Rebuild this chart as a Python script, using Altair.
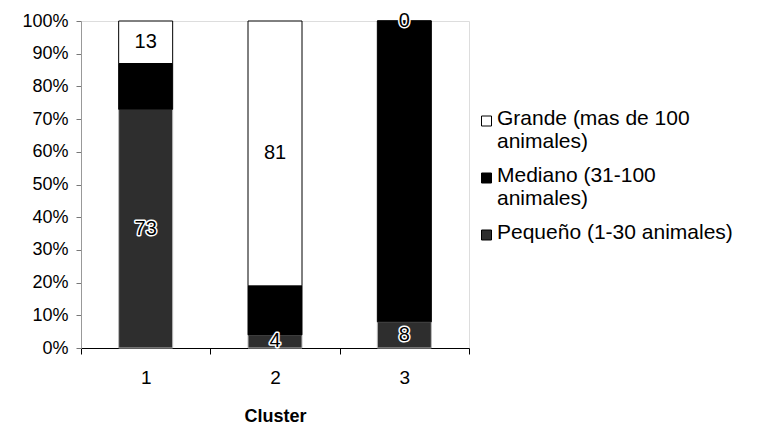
import altair as alt
import pandas as pd

clusters = ["1", "2", "3"]
categories = ["Pequeño (1-30 animales)", "Mediano (31-100 animales)", "Grande (mas de 100 animales)"]
pequeno = [73, 4, 8]
mediano = [14, 15, 92]
grande = [13, 81, 0]
show_label = [True, False, True]
y_ticks = [0, 0.1, 0.2, 0.3, 0.4, 0.5, 0.6, 0.7, 0.8, 0.9, 1.0]

rows = []
for i, c in enumerate(clusters):
    cum = 0
    for k, (cat, vals) in enumerate(zip(categories, [pequeno, mediano, grande])):
        v = vals[i]
        rows.append(dict(cluster=c, cat=cat, value=v,
                         y0=cum / 100, y1=(cum + v) / 100, mid=(cum + v / 2) / 100,
                         label=str(v) if show_label[k] else ""))
        cum += v
df = pd.DataFrame(rows)

FONT = "Liberation Sans"
legend_order = [categories[2], categories[1], categories[0]]

label_expr = (
    "datum.value == 'Grande (mas de 100 animales)' ? ['Grande (mas de 100', 'animales)'] : "
    "datum.value == 'Mediano (31-100 animales)' ? ['Mediano (31-100', 'animales)'] : [datum.value, '']"
)

x_scale = alt.Scale(paddingInner=0, paddingOuter=0)
y_scale = alt.Scale(domain=[0, 1], nice=False)

x_axis = alt.Axis(title="Cluster")
y_axis = alt.Axis(title=None, values=y_ticks, format=".0%")

bars = alt.Chart(df).mark_bar(size=54, strokeWidth=1).encode(
    x=alt.X("cluster:N", scale=x_scale, axis=x_axis),
    y=alt.Y("y0:Q", scale=y_scale, axis=y_axis),
    y2="y1:Q",
    color=alt.Color("cat:N",
                    scale=alt.Scale(domain=legend_order, range=["white", "black", "#2e2e2e"]),
                    legend=alt.Legend(title=None, orient="none", legendX=395, legendY=87,
                                      symbolType="M-1,-0.5H1V1.5H-1Z", symbolSize=100,
                                      symbolStrokeColor="black", symbolStrokeWidth=1,
                                      labelFontSize=21, labelFont=FONT, labelColor="black",
                                      labelLimit=400, labelExpr=label_expr,
                                      rowPadding=12, labelOffset=0)),
    stroke=alt.condition(alt.datum.cat == categories[0], alt.value("#bbbbbb"), alt.value("black")),
)

lab = df[df["label"] != ""]
halo = alt.Chart(lab).mark_text(fontSize=20, font=FONT, color="white", stroke="white",
                                strokeWidth=3, strokeJoin="round").encode(
    x=alt.X("cluster:N", scale=x_scale, axis=x_axis),
    y=alt.Y("mid:Q", scale=y_scale, axis=y_axis), text="label:N")
text = alt.Chart(lab).mark_text(fontSize=20, font=FONT, color="black").encode(
    x=alt.X("cluster:N", scale=x_scale, axis=x_axis),
    y=alt.Y("mid:Q", scale=y_scale, axis=y_axis), text="label:N")

chart = alt.layer(bars, halo, text).properties(
    width=388, height=327,
    autosize=alt.AutoSizeParams(type="none"),
    padding={"left": 81, "top": 21, "right": 288, "bottom": 81},
).configure_view(stroke=None).configure(background="white").configure_axis(
    grid=False, labelFont=FONT, titleFont=FONT, labelColor="black", titleColor="black",
).configure_axisX(
    labelAngle=0, tickBand="extent", domainColor="black", tickColor="black", tickSize=6,
    labelFontSize=19, labelPadding=14, titleFontSize=18, titleFontWeight="bold",
    titlePadding=20,
).configure_axisY(
    labelOverlap=False, domainColor="#999999", tickColor="#777777", tickSize=5,
    labelFontSize=18, labelPadding=8,
)

chart.save("out.html", embed_options={"renderer": "svg", "actions": False})
